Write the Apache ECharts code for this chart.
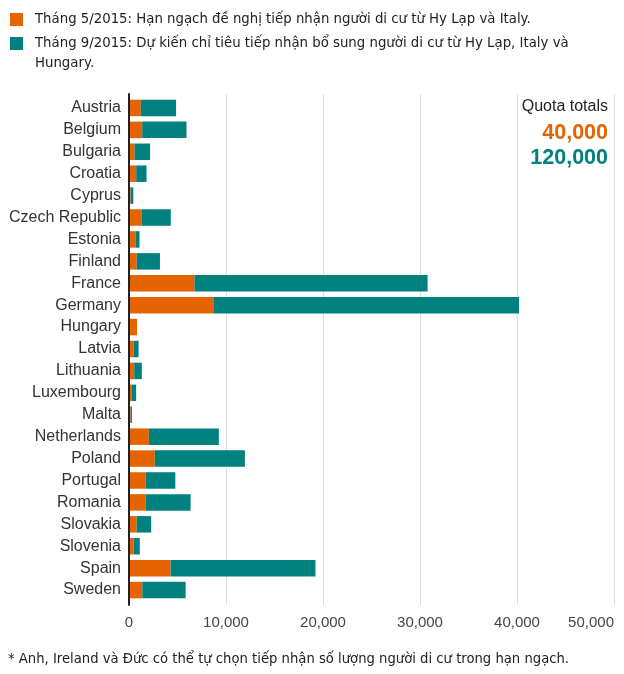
<!DOCTYPE html>
<html><head><meta charset="utf-8">
<script src="https://cdn.jsdelivr.net/npm/echarts@6/dist/echarts.min.js"></script>
<style>html,body{margin:0;padding:0;background:#fff}#c{width:624px;height:674px}</style>
</head><body><div id="c"></div>
<script>
const categories = ['Austria','Belgium','Bulgaria','Croatia','Cyprus','Czech Republic','Estonia','Finland','France','Germany','Hungary','Latvia','Lithuania','Luxembourg','Malta','Netherlands','Poland','Portugal','Romania','Slovakia','Slovenia','Spain','Sweden'];
const may2015 = [1213,1364,572,744,173,1328,711,792,6752,8763,827,461,540,297,170,2047,2659,1701,1705,786,483,4288,1369];
const sep2015 = [3640,4564,1600,1064,274,2978,373,2398,24031,31443,0,526,780,440,133,7214,9287,3074,4646,1502,631,14931,4469];
const seriesNames = ['Tháng 5/2015: Hạn ngạch đề nghị tiếp nhận người di cư từ Hy Lạp và Italy.',
                     'Tháng 9/2015: Dự kiến chỉ tiêu tiếp nhận bổ sung người di cư từ Hy Lạp, Italy và\nHungary.'];
const quotaTitle = 'Quota totals';
const quotaTotals = ['40,000','120,000'];
const footnote = '* Anh, Ireland và Đức có thể tự chọn tiếp nhận số lượng người di cư trong hạn ngạch.';

const ORANGE = '#e66400', TEAL = '#00807f';
const legendFont = 'DejaVu Sans';
const chart = echarts.init(document.getElementById('c'), null, {renderer:'canvas'});
chart.setOption({
  animation: false,
  textStyle: {fontFamily: 'Liberation Sans'},
  legend: [{
    left: 10, top: 13, padding: 0, itemWidth: 13, itemHeight: 13, icon: 'rect',
    data: [seriesNames[0]],
    textStyle: {fontFamily: legendFont, fontSize: 13.3, color: '#222', padding: [0,0,0,7]}
  },{
    left: 10, top: 13.5, padding: 0, itemWidth: 13, itemHeight: 13, icon: 'rect',
    data: [seriesNames[1]],
    formatter: n => '\n' + n,
    textStyle: {fontFamily: legendFont, fontSize: 13.3, color: '#222', lineHeight: 20, padding: [0,0,0,7]}
  }],
  grid: [
    {left: 129, right: 10, top: 97, bottom: 73, containLabel: false},
    {left: 129, right: 10, top: 94, bottom: 69, containLabel: false}
  ],
  xAxis: [{
    type: 'value', gridIndex: 0, min: 0, max: 50000, interval: 10000,
    axisLine: {show: false}, axisTick: {show: false}, splitLine: {show: false},
    axisLabel: {fontSize: 15, color: '#444', margin: 14, alignMaxLabel: 'right',
      formatter: v => v.toLocaleString('en-US')}
  },{
    type: 'value', gridIndex: 1, min: 0, max: 50000, interval: 10000,
    axisLine: {show: false}, axisTick: {show: false}, axisLabel: {show: false},
    splitLine: {lineStyle: {color: '#dddddd', width: 1}}
  }],
  yAxis: [{
    type: 'category', gridIndex: 0, data: categories, inverse: true,
    axisLine: {show: false},
    axisTick: {show: false},
    axisLabel: {fontSize: 16, color: '#333', margin: 8}
  },{
    type: 'value', gridIndex: 1, min: 0, max: 1, z: 5,
    axisLine: {show: true, lineStyle: {color: '#222', width: 2}},
    axisTick: {show: false}, axisLabel: {show: false}, splitLine: {show: false}
  }],
  series: [{
    name: seriesNames[0], type: 'bar', stack: 'q', data: may2015, barWidth: 16.5,
    itemStyle: {color: ORANGE}
  },{
    name: seriesNames[1], type: 'bar', stack: 'q', data: sep2015, barWidth: 16.5,
    itemStyle: {color: TEAL}
  }],
  graphic: [
    {type:'text', right: 16, top: 99, style:{text: quotaTitle, fontFamily:'Liberation Sans', fontSize: 16, fill:'#222'}},
    {type:'text', right: 16, top: 122, style:{text: quotaTotals[0], fontFamily:'Liberation Sans', fontSize: 21.5, fontWeight:'bold', fill: ORANGE}},
    {type:'text', right: 16, top: 147, style:{text: quotaTotals[1], fontFamily:'Liberation Sans', fontSize: 21.5, fontWeight:'bold', fill: TEAL}},
    {type:'text', left: 8, top: 653, style:{text: footnote, fontFamily: legendFont, fontSize: 13.2, fill:'#222'}}
  ]
});
</script></body></html>
